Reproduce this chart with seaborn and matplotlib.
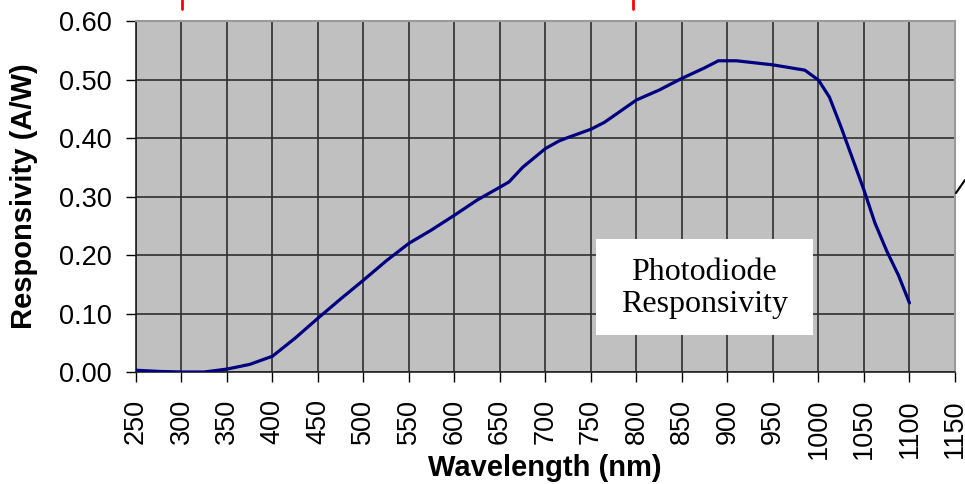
import pandas as pd
import matplotlib.pyplot as plt
import seaborn as sns
from matplotlib.lines import Line2D
from matplotlib.patches import Rectangle

wavelength = [250, 275, 300, 325, 350, 375, 400, 425, 450, 475, 500, 525, 550, 575,
              600, 625, 650, 660, 675, 700, 715, 725, 750, 765, 800, 825, 850, 875,
              890, 910, 950, 985, 1000, 1012, 1025, 1050, 1062, 1075, 1088, 1100]
responsivity = [0.003, 0.001, 0.0, 0.0, 0.005, 0.013, 0.027, 0.058, 0.092, 0.125,
                0.157, 0.19, 0.22, 0.243, 0.268, 0.294, 0.316, 0.325, 0.35, 0.382,
                0.395, 0.401, 0.415, 0.427, 0.465, 0.482, 0.502, 0.52, 0.532, 0.532,
                0.525, 0.516, 0.499, 0.47, 0.418, 0.311, 0.255, 0.207, 0.165, 0.118]
x_ticks = list(range(250, 1151, 50))
y_ticks = [0.0, 0.1, 0.2, 0.3, 0.4, 0.5, 0.6]
box_text = 'Photodiode\nResponsivity'

df = pd.DataFrame({'wavelength': wavelength, 'responsivity': responsivity})

sns.set_style('ticks', {'axes.facecolor': '#c0c0c0'})
plt.rcParams['font.family'] = ['Liberation Sans', 'DejaVu Sans']
plt.rcParams['text.color'] = 'black'
plt.rcParams['axes.labelcolor'] = 'black'
plt.rcParams['xtick.color'] = 'black'
plt.rcParams['ytick.color'] = 'black'

fig = plt.figure(figsize=(9.65, 4.84), dpi=100)
ax = fig.add_axes([0.1409, 0.2314, 0.8487, 0.7252])

sns.lineplot(data=df, x='wavelength', y='responsivity', ax=ax,
             color='#000080', linewidth=2.3, zorder=3)

ax.set_xlim(250, 1150)
ax.set_ylim(0, 0.6)
ax.set_xticks(x_ticks)
ax.set_yticks(y_ticks)
ax.set_xticklabels([str(v) for v in x_ticks], rotation=90)
ax.set_yticklabels([f'{v:.2f}' for v in y_ticks])
ax.tick_params(axis='both', labelsize=19.5, length=7.5, width=1, direction='out')
ax.tick_params(axis='x', pad=12)
ax.tick_params(axis='y', pad=10)
ax.grid(True, color='#2e2e2e', linewidth=1.2)
ax.set_axisbelow(True)

for side in ['top', 'right']:
    ax.spines[side].set_color('#9a9a9a')
    ax.spines[side].set_linewidth(1.5)
for side in ['left', 'bottom']:
    ax.spines[side].set_color('#222222')
    ax.spines[side].set_linewidth(1.2)

ax.set_xlabel('Wavelength (nm)', fontsize=21, fontweight='bold', va='center')
ax.xaxis.set_label_coords(0.499, -0.274)
ax.set_ylabel('Responsivity (A/W)', fontsize=21, fontweight='bold', va='center')
ax.yaxis.set_label_coords(-0.1368, 0.5)

# white label box
ax.add_patch(Rectangle((0.5617, 0.1054), 0.265, 0.2735, transform=ax.transAxes,
                       facecolor='white', edgecolor='none', zorder=5))
ax.text(0.6941, 0.238, box_text, transform=ax.transAxes, ha='center', va='center',
        fontsize=23, family=['Liberation Serif', 'DejaVu Serif'], linespacing=1.15,
        zorder=6)

# stray marks at the edges of the crop
fig.add_artist(Line2D([182 / 965, 182 / 965], [1.0, 1 - 9 / 484], color='red', linewidth=2))
fig.add_artist(Line2D([633 / 965, 633 / 965], [1.0, 1 - 9 / 484], color='red', linewidth=2))
fig.add_artist(Line2D([956 / 965, 965 / 965], [1 - 193 / 484, 1 - 180 / 484], color='black', linewidth=1.5))

fig.savefig('out.png', dpi=100)
